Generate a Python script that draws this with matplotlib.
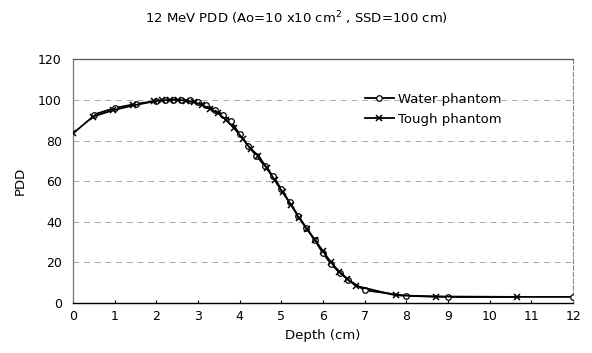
import matplotlib
matplotlib.use("Agg")
import matplotlib.pyplot as plt

title = "12 MeV PDD (Ao=10 x10 cm$^2$ , SSD=100 cm)"
xlabel = "Depth (cm)"
ylabel = "PDD"
series_names = ["Water phantom", "Tough phantom"]

water_depth = [0.5, 1.0, 1.5, 2.0, 2.2, 2.4, 2.6, 2.8, 3.0, 3.2, 3.4, 3.6, 3.8, 4.0,
               4.2, 4.4, 4.6, 4.8, 5.0, 5.2, 5.4, 5.6, 5.8, 6.0, 6.2, 6.4, 6.6,
               7.0, 8.0, 9.0, 12.0]
water_pdd = [92.8, 96.0, 98.0, 99.5, 100.0, 100.0, 100.0, 99.8, 99.0, 97.5, 95.2, 92.7,
             89.4, 83.0, 77.5, 72.5, 67.5, 62.5, 56.0, 49.5, 43.0, 37.0, 31.0, 24.5,
             19.0, 15.0, 11.5, 6.3, 3.5, 3.0, 3.0]

tough_depth = [0.0, 0.48, 0.97, 1.45, 1.94, 2.13, 2.32, 2.52, 2.71, 2.90, 3.10, 3.29,
               3.48, 3.68, 3.87, 4.07, 4.26, 4.45, 4.65, 4.84, 5.03, 5.23, 5.42, 5.61,
               5.81, 6.00, 6.19, 6.39, 6.58, 6.78, 7.74, 8.71, 10.65]
tough_pdd = [83.5, 91.8, 95.0, 97.3, 99.3, 99.8, 100.0, 100.0, 99.7, 99.0, 97.5, 95.5,
             93.5, 90.0, 86.0, 81.0, 76.0, 72.5, 66.5, 60.5, 54.5, 48.5, 42.0, 36.5,
             31.0, 25.5, 20.0, 15.5, 12.0, 8.5, 3.8, 3.2, 3.0]

x_ticks = list(range(0, 13))
y_ticks = [0, 20, 40, 60, 80, 100, 120]
grid_levels = [20, 40, 60, 80, 100]

plt.rcParams['font.family'] = ['DejaVu Sans']

fig = plt.figure(figsize=(5.92, 3.53), dpi=100)
ax = fig.add_axes([0.1233, 0.1416, 0.8447, 0.6904])

for g in grid_levels:
    ax.axhline(g, color='#a8a8a8', lw=0.7, ls=(0, (6, 5)), zorder=0)

ax.plot(water_depth, water_pdd, color='black', lw=1.3, marker='o', ms=4,
        mfc='white', mec='black', mew=0.9, label=series_names[0], zorder=3)
ax.plot(tough_depth, tough_pdd, color='black', lw=1.3, marker='x', ms=4.5,
        mew=1.1, label=series_names[1], zorder=3)

ax.set_xlim(0, 12)
ax.set_ylim(0, 120)
ax.set_xticks(x_ticks)
ax.set_yticks(y_ticks)
ax.tick_params(axis='both', labelsize=9, length=2, direction='in', pad=5)
ax.tick_params(axis='y', length=0, pad=8)

ax.spines['top'].set_color('#555555')
ax.spines['top'].set_linewidth(0.9)
ax.spines['right'].set_color('#888888')
ax.spines['right'].set_linestyle((0, (4, 2)))
ax.spines['right'].set_linewidth(0.8)
ax.spines['left'].set_color('#777777')
ax.spines['left'].set_linewidth(0.9)
ax.spines['bottom'].set_color('black')
ax.spines['bottom'].set_linewidth(1.0)

ax.set_xlabel(xlabel, fontsize=9.5, labelpad=4)
ax.set_ylabel(ylabel, fontsize=9.5, labelpad=8)

leg = ax.legend(loc='upper left', bbox_to_anchor=(0.56, 0.91), frameon=False,
                fontsize=9.5, handlelength=2.2, handletextpad=0.3, labelspacing=0.5)

fig.text(0.5, 0.948, title, ha='center', va='center', fontsize=9.5)

fig.savefig("out.png", dpi=100)
